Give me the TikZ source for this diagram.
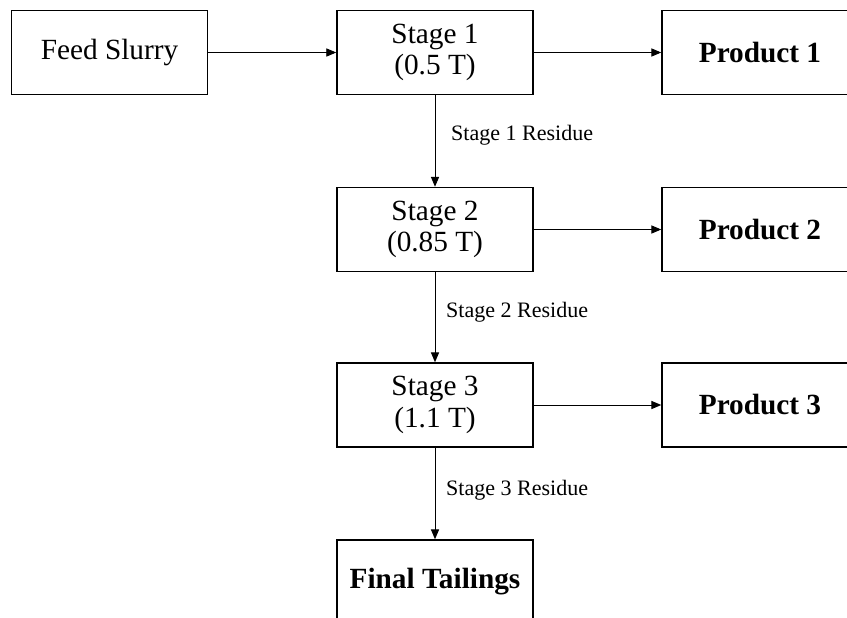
\documentclass[tikz,border=0pt]{standalone}
\usepackage{fontspec}
\setmainfont{Liberation Serif}
\usetikzlibrary{arrows.meta}
\tikzset{
  stagebox/.style={draw, line width=1.3pt, minimum width=5.88cm, minimum height=2.52cm,
    inner sep=0pt, align=center, font=\fontsize{25}{27}\selectfont},
  prodbox/.style={stagebox, font=\fontsize{25}{27}\selectfont\bfseries},
  flow/.style={-{Triangle[length=8.5pt,width=7pt]}, line width=0.8pt},
  residue/.style={anchor=west, inner sep=0pt, font=\fontsize{18.8}{22}\selectfont}
}
\begin{document}
\begin{tikzpicture}[x=0.03cm,y=-0.03cm]
\pgfmathsetmacro{\xst}{435}
\pgfmathsetmacro{\xpr}{760}
\pgfmathsetmacro{\xlab}{446}
  \useasboundingbox (0,0) rectangle (847,617);
  \clip (0,0) rectangle (847,617);
  % boxes
  \node[stagebox] (feed) at (109.5,52.5) {Feed Slurry};
  \node[stagebox] (stage1) at (\xst,52.5) {Stage 1\\(0.5 T)};
  \node[stagebox] (stage2) at (\xst,229.5) {Stage 2\\(0.85 T)};
  \node[stagebox] (stage3) at (\xst,405) {Stage 3\\(1.1 T)};
  \node[prodbox] (prod1) at (\xpr,52.5) {Product 1};
  \node[prodbox] (prod2) at (\xpr,229.5) {Product 2};
  \node[prodbox] (prod3) at (\xpr,405) {Product 3};
  \node[prodbox] (tail) at (\xst,582) {Final Tailings};
  % arrows
  \draw[flow] (feed) -- (stage1);
  \draw[flow] (stage1) -- (prod1);
  \draw[flow] (stage2) -- (prod2);
  \draw[flow] (stage3) -- (prod3);
  \draw[flow] (stage1) -- (stage2);
  \draw[flow] (stage2) -- (stage3);
  \draw[flow] (stage3) -- (tail);
  \node[residue] (res1) at (\xlab+5,135) {Stage 1 Residue};
  \node[residue] (res2) at (\xlab,312) {Stage 2 Residue};
  \node[residue] (res3) at (\xlab,490) {Stage 3 Residue};
\end{tikzpicture}
\end{document}
